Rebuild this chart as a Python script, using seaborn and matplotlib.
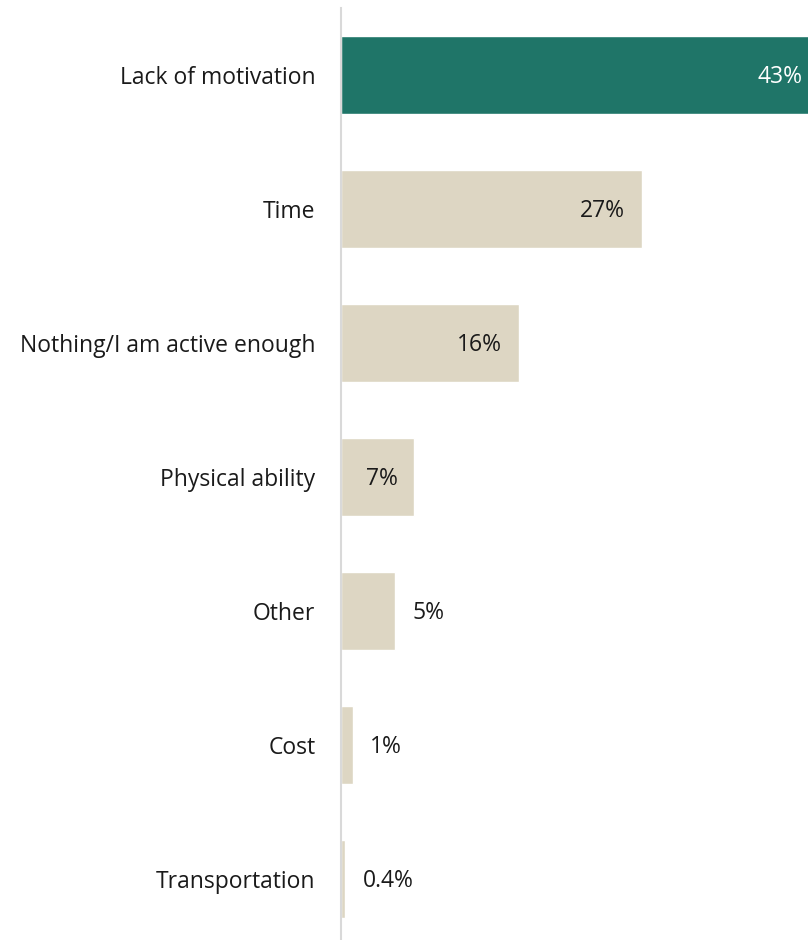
import matplotlib
matplotlib.use("Agg")
import matplotlib.pyplot as plt
import seaborn as sns
import pandas as pd

categories = ["Lack of motivation", "Time", "Nothing/I am active enough",
              "Physical ability", "Other", "Cost", "Transportation"]
values = [43, 27.1, 16, 6.6, 4.9, 1.1, 0.4]
value_labels = ["43%", "27%", "16%", "7%", "5%", "1%", "0.4%"]
highlight = [True, False, False, False, False, False, False]

GREEN = "#1f7568"
BEIGE = "#ddd6c3"

sns.set_theme(style="white")
plt.rcParams["font.family"] = ["Open Sans", "DejaVu Sans"]

df = pd.DataFrame({"cat": categories, "val": values,
                   "grp": ["hi" if h else "lo" for h in highlight]})

W, H = 808, 940
fig = plt.figure(figsize=(W / 100, H / 100), dpi=100)
ax_left = 341 / W
ax_top = 8 / H
ax_bottom = -6 / H
ax = fig.add_axes([ax_left, ax_bottom, 1 - ax_left, 1 - ax_top - ax_bottom])

sns.barplot(data=df, y="cat", x="val", hue="grp",
            palette={"hi": GREEN, "lo": BEIGE}, dodge=False,
            width=0.585, legend=False, ax=ax, saturation=1)

ax.set_xlim(0, 467 / 11.12)
ax.set_ylim(6.5, -0.5)
ax.set_xlabel("")
ax.set_ylabel("")
ax.set_xticks([])
for s in ["top", "right", "bottom"]:
    ax.spines[s].set_visible(False)
ax.spines["left"].set_color("#d9d9d9")
ax.spines["left"].set_linewidth(1.5)
ax.tick_params(axis="y", length=0, pad=18.5, labelsize=16.5, labelcolor="#1a1a1a")

px = 11.12  # pixels per percentage point
fs = 16.5
dy = 0.018
for i, (v, lab, h) in enumerate(zip(values, value_labels, highlight)):
    if v >= 6:
        ax.text(v - 17 / px, i + dy, lab, ha="right", va="center", fontsize=fs,
                color="white" if h else "#1a1a1a", clip_on=False)
    else:
        ax.text(v + 17 / px, i + dy, lab, ha="left", va="center", fontsize=fs,
                color="#1a1a1a")

fig.savefig("out.png", dpi=100)
